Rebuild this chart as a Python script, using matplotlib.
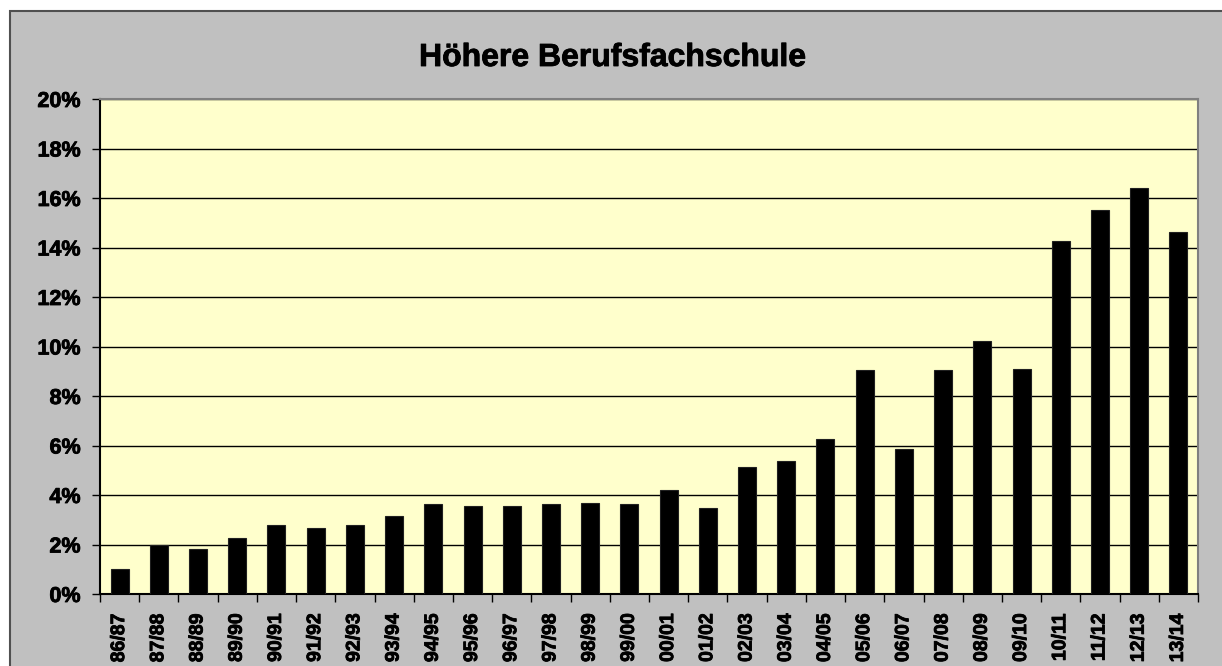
import numpy as np
import matplotlib
matplotlib.use('Agg')
from matplotlib import pyplot as plt
from matplotlib.patches import Rectangle
from matplotlib.ticker import FuncFormatter
import matplotlib.patheffects as pe

# School years and share (in %)
years = ['86/87', '87/88', '88/89', '89/90', '90/91', '91/92', '92/93', '93/94',
         '94/95', '95/96', '96/97', '97/98', '98/99', '99/00', '00/01', '01/02',
         '02/03', '03/04', '04/05', '05/06', '06/07', '07/08', '08/09', '09/10',
         '10/11', '11/12', '12/13', '13/14']
share = [1.0, 2.0, 1.8, 2.27, 2.8, 2.67, 2.77, 3.15,
         3.62, 3.56, 3.56, 3.62, 3.68, 3.62, 4.19, 3.49,
         5.12, 5.37, 6.28, 9.04, 5.87, 9.06, 10.21, 9.08,
         14.28, 15.53, 16.42, 14.64]
title = 'Höhere Berufsfachschule'

plt.rcParams['font.family'] = ['Liberation Sans', 'DejaVu Sans']

fig = plt.figure(figsize=(12.22, 6.66), dpi=100)
fig.patch.set_facecolor('white')

# grey chart area with dark border (runs off the right and bottom edge)
bg = Rectangle((10 / 1222, -0.05), 1.1, (655 / 666) + 0.05, transform=fig.transFigure,
               facecolor='#C0C0C0', edgecolor='#505050', linewidth=1.5, zorder=-10)
fig.patches.append(bg)

ax = fig.add_axes([100 / 1222, 72 / 666, 1098 / 1222, 495 / 666])
ax.set_facecolor('#FFFFCC')

x = np.arange(len(years))
ax.bar(x, share, width=0.46, color='black', edgecolor='#202020', linewidth=0.8, zorder=3)

ax.set_xlim(-0.5, len(years) - 0.5)
ax.set_ylim(0, 20)
ax.set_yticks(np.arange(0, 21, 2))
ax.yaxis.set_major_formatter(FuncFormatter(lambda v, p: '%d%%' % v))
ax.yaxis.grid(True, color='black', linewidth=1.0, zorder=1)
ax.set_axisbelow(True)

# category labels centred, ticks at the category boundaries
thick = [pe.withStroke(linewidth=0.6, foreground='black')]
ax.set_xticks(x)
ax.set_xticklabels(years, rotation=90, fontsize=14, fontweight='bold')
ax.tick_params(axis='x', length=0, pad=14)
ax.set_xticks(np.arange(-0.5, len(years)), minor=True)
ax.tick_params(axis='x', which='minor', length=6, width=1, color='black', direction='out')
ax.tick_params(axis='y', length=6, width=1, direction='out', labelsize=15.5, pad=8)
for lab in ax.get_yticklabels() + ax.get_xticklabels():
    lab.set_fontweight('bold')
    lab.set_path_effects(thick)

ax.spines['left'].set_color('black')
ax.spines['bottom'].set_color('black')
ax.spines['top'].set_color('#808080')
ax.spines['right'].set_color('#808080')
for s in ax.spines.values():
    s.set_linewidth(1.5)

fig.text(613 / 1222, 1 - 58 / 666, title, ha='center', va='center',
         fontsize=23, fontweight='bold', path_effects=thick)

fig.savefig('out.png', dpi=100)
